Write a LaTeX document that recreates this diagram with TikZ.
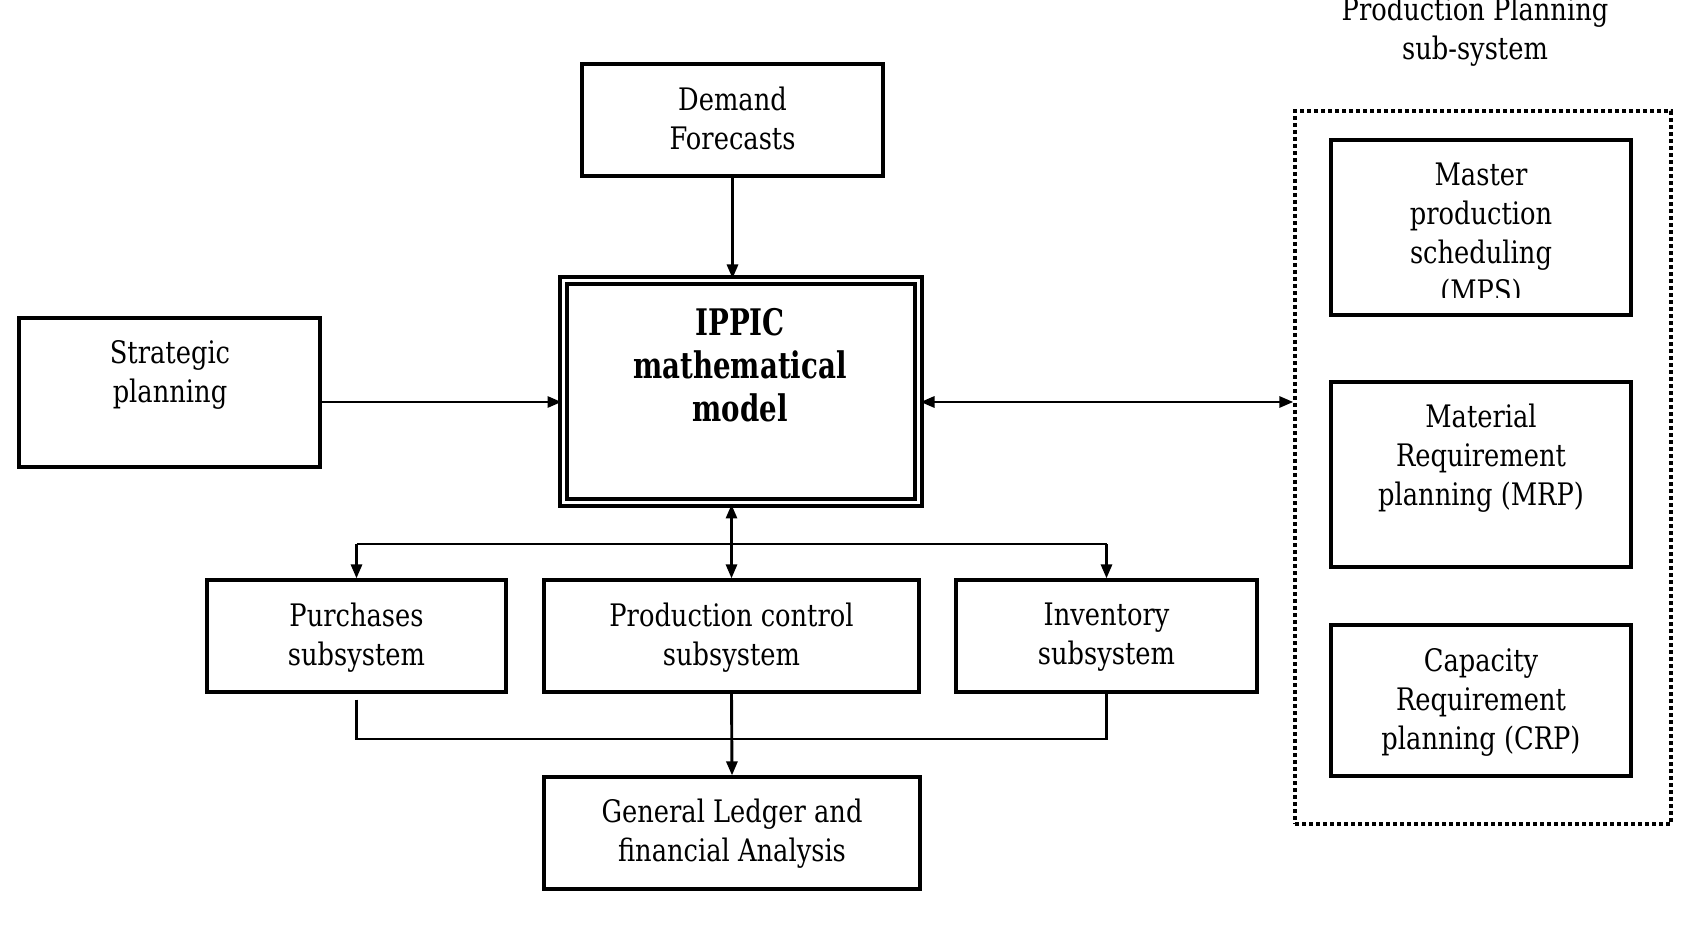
\documentclass[tikz,border=0pt]{standalone}
\usepackage{fontspec}
\setmainfont{DejaVu Serif}[FakeStretch=0.83]
\newfontfamily\ippicfont{DejaVu Serif}[FakeStretch=0.755]
\usetikzlibrary{arrows.meta}
\begin{document}
\begin{tikzpicture}[x=0.5pt,y=-0.5pt,
  box/.style={draw, line width=1.6pt, inner sep=0pt},
  txt/.style={align=center, font=\fontsize{15.5}{19.5}\selectfont, inner sep=0pt},
  conn/.style={line width=1.45pt},
  arr/.style={conn, -{Triangle[length=7pt,width=5.5pt]}},
  darr/.style={conn, {Triangle[length=7pt,width=5.5pt]}-{Triangle[length=7pt,width=5.5pt]}},
]
\useasboundingbox (0,0) rectangle (1696,940);
\clip (0,0) rectangle (1696,940);

% boxes
\node[box, minimum width=150.5pt, minimum height=56pt] (demand) at (732.5,120) {};
\node[draw, line width=2pt, double, double distance=1.5pt, minimum width=177.5pt, minimum height=111pt, inner sep=0pt] (ippic) at (741,391.5) {};
\node[box, minimum width=150.5pt, minimum height=74.5pt] (strat) at (169.5,392.5) {};
\node[box, minimum width=149.5pt, minimum height=56pt] (purch) at (356.5,636) {};
\node[box, minimum width=187.5pt, minimum height=56pt] (prod) at (731.5,636) {};
\node[box, minimum width=150.5pt, minimum height=56pt] (inv) at (1106.5,636) {};
\node[box, minimum width=188pt, minimum height=56pt] (gl) at (732,833) {};
\node[draw, line width=1.7pt, dash pattern=on 2pt off 1.5pt, minimum width=188pt, minimum height=356.5pt, inner sep=0pt] (pps) at (1483,467.5) {};
\node[box, minimum width=150pt, minimum height=87.5pt] (mps) at (1481,227.5) {};
\node[box, minimum width=150pt, minimum height=92.5pt] (mrp) at (1481,474.5) {};
\node[box, minimum width=150pt, minimum height=75.5pt] (crp) at (1481,700.5) {};

% texts
\node[txt] (demandT) at (732.5,118) {Demand\\Forecasts};
\node[txt] (stratT) at (170,375) {Strategic\\planning};
\node[align=center, inner sep=0pt, font=\ippicfont\bfseries\fontsize{18.3}{21.5}\selectfont] (ippicT) at (740,365) {IPPIC\\mathematical\\model};
\node[txt] (purchT) at (356.5,637.5) {Purchases\\subsystem};
\node[txt] (prodT) at (731.5,637.5) {Production control\\subsystem};
\node[txt] (invT) at (1106.5,637.5) {Inventory\\subsystem};
\node[txt] (glT) at (732,834) {General Ledger and\\financial Analysis};
\node[txt] (titleT) at (1475,32) {Production Planning\\sub-system};
\begin{scope}
  \clip (1331,140) rectangle (1631,298);
  \node[txt] (mpsT) at (1481,235) {Master\\production\\scheduling\\(MPS)};
\end{scope}
\node[txt] (mrpT) at (1481,458) {Material\\Requirement\\planning (MRP)};
\node[txt] (crpT) at (1481,702) {Capacity\\Requirement\\planning (CRP)};

% connectors
\draw[arr] (demand.south) -- (demand.south |- ippic.north);
\coordinate (sA) at ([yshift=-4.75pt]strat.east);
\draw[arr] (sA) -- (sA -| ippic.west);
\coordinate (iE) at ([yshift=-5.25pt]ippic.east);
\draw[darr] (iE) -- (iE -| pps.west);
\draw[darr] (prod.north) -- (prod.north |- ippic.south);
\coordinate (busY) at (0,544);
\draw[conn] (purch.north |- busY) -- (inv.north |- busY);
\draw[arr] (purch.north |- busY) -- (purch.north);
\draw[arr] (inv.north |- busY) -- (inv.north);
\coordinate (busB) at (0,739);
\draw[conn] ([yshift=-3pt]purch.south) -- (purch.south |- busB) -- (inv.south |- busB) -- (inv.south);
\draw[arr] (prod.south) -- (gl.north);
\end{tikzpicture}
\end{document}
